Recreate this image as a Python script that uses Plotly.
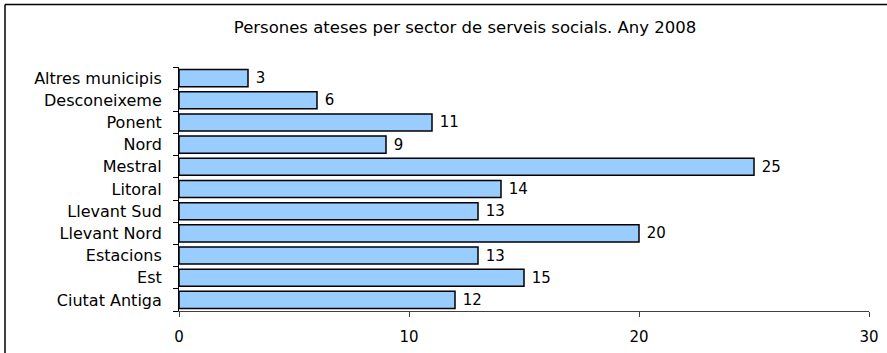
import plotly.graph_objects as go

# categories listed bottom to top, as drawn on the chart
sectors = [
    "Ciutat Antiga", "Est", "Estacions", "Llevant Nord", "Llevant Sud",
    "Litoral", "Mestral", "Nord", "Ponent", "Desconeixeme", "Altres municipis",
]
persons = [12, 15, 13, 20, 13, 14, 25, 9, 11, 6, 3]
x_ticks = [0, 10, 20, 30]
title = "Persones ateses per sector de serveis socials. Any 2008"

FONT = "DejaVu Sans, Verdana, sans-serif"

fig = go.Figure(
    go.Bar(
        y=sectors, x=persons, orientation="h",
        marker={"color": "#99ccff", "line": {"color": "#000000", "width": 1.5}},
        text=persons, texttemplate="\u00a0%{text}", textposition="outside",
        cliponaxis=False, constraintext="none",
        textfont={"family": FONT, "size": 15, "color": "#000000"},
    )
)

fig.update_layout(
    width=887, height=353,
    margin={"l": 179, "r": 18, "t": 67, "b": 42, "autoexpand": False},
    paper_bgcolor="white", plot_bgcolor="white",
    bargap=0.23, showlegend=False,
    font={"family": FONT, "size": 15, "color": "#000000"},
    title={"text": title, "x": 465 / 887, "xanchor": "center",
           "y": 1 - 27 / 353, "yanchor": "middle",
           "font": {"family": FONT, "size": 16.5, "color": "#000000"}},
    xaxis={"range": [0, 30], "tickvals": x_ticks, "showgrid": False,
           "zeroline": False, "showline": True, "linecolor": "#404040",
           "linewidth": 1, "ticks": "outside", "ticklen": 5,
           "tickcolor": "#404040", "ticklabelstandoff": 7,
           "tickfont": {"size": 15}, "automargin": False,
           "fixedrange": True},
    yaxis={"type": "category", "showgrid": False, "showline": True,
           "linecolor": "#000000", "linewidth": 1, "ticks": "outside",
           "tickson": "boundaries", "ticklen": 5, "tickcolor": "#000000",
           "ticklabelstandoff": 13, "tickfont": {"size": 16},
           "automargin": False, "fixedrange": True},
    # chart border: only its top and left edges fall inside the picture
    shapes=[
        {"type": "line", "xref": "paper", "yref": "paper",
         "x0": (5 - 179) / 690, "x1": (900 - 179) / 690,
         "y0": 1 + (67 - 4.5) / 244, "y1": 1 + (67 - 4.5) / 244,
         "line": {"color": "#000000", "width": 1.5}, "layer": "below"},
        {"type": "line", "xref": "paper", "yref": "paper",
         "x0": (5 - 179) / 690, "x1": (5 - 179) / 690,
         "y0": (311 - 400) / 244, "y1": 1 + (67 - 4.5) / 244,
         "line": {"color": "#000000", "width": 1.5}, "layer": "below"},
    ],
)

# drop the page's default body margin so the figure sits at the window's corner
fig.write_html("out.html", config={"displayModeBar": False},
               post_script="document.body.style.margin = '0';")
